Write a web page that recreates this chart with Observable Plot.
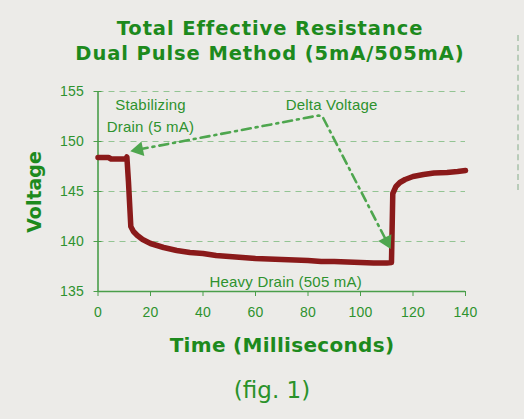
<!DOCTYPE html>
<html><head><meta charset="utf-8">
<script src="https://cdn.jsdelivr.net/npm/d3@7"></script>
<script src="https://cdn.jsdelivr.net/npm/@observablehq/plot@0.6"></script>
<style>
body{margin:0;background:#ecebe8;}
#wrap{position:relative;width:524px;height:419px;overflow:hidden;background:#ecebe8;}
.t{position:absolute;left:0;width:524px;text-align:center;color:#1d8a1d;font-family:"DejaVu Sans",sans-serif;white-space:nowrap;}
#title{top:16px;left:8px;font-weight:bold;font-size:19.5px;line-height:25px;letter-spacing:0.9px;}
#xlab{top:333px;left:20px;font-weight:bold;font-size:20px;letter-spacing:0.3px;}
#cap{top:377px;left:10px;font-size:23px;color:#2a922a;}
#ylab{position:absolute;left:34px;top:192px;transform:translate(-50%,-50%) rotate(-90deg);color:#1d8a1d;font-family:"DejaVu Sans",sans-serif;font-weight:bold;font-size:19px;white-space:nowrap;}
#edge{position:absolute;left:517px;top:35px;height:155px;border-left:2px dashed #b9ccb9;}
#chart{position:absolute;left:0;top:0;}
#chart svg text{letter-spacing:0.2px;}
</style>
</head><body>
<div id="wrap">
  <div id="chart"></div>
  <div id="title" class="t">Total Effective Resistance<br>Dual Pulse Method (5mA/505mA)</div>
  <div id="ylab">Voltage</div>
  <div id="xlab" class="t">Time (Milliseconds)</div>
  <div id="cap" class="t">(fig. 1)</div>
  <div id="edge"></div>
</div>
<script>
// Measured trace
const timeMs = [0, 4, 5, 10.5, 11, 11.6, 12.5, 13.5, 15, 17, 20, 25, 30, 35, 40, 45, 50, 55, 60, 65, 70, 75, 80, 85, 90, 95, 100, 105, 110, 111.8, 112.3, 113.5, 115, 117, 120, 124, 128, 133, 137, 140];
const voltage = [148.4, 148.4, 148.25, 148.25, 148.45, 146, 141.5, 141.0, 140.6, 140.2, 139.8, 139.4, 139.1, 138.9, 138.8, 138.6, 138.5, 138.4, 138.3, 138.25, 138.2, 138.15, 138.1, 138.0, 138.0, 137.95, 137.9, 137.85, 137.85, 137.9, 144.8, 145.5, 145.9, 146.2, 146.5, 146.7, 146.85, 146.9, 147.0, 147.1];

// Axis ticks
const xTicks = [0, 20, 40, 60, 80, 100, 120, 140];
const yTicks = [135, 140, 145, 150, 155];
const gridLevels = [140, 145, 150, 155];

// Annotation labels
const labelText = ["Stabilizing", "Drain (5 mA)", "Delta Voltage", "Heavy Drain (505 mA)"];
const labelX = [20, 20, 89, 71.5];
const labelY = [153.6, 151.4, 153.6, 135.95];

// Dash-dot arrow path (data coords) and heads
const arrowX = [15.5, 84, 85.5, 110];
const arrowY = [149.2, 152.6, 152.5, 140.0];
const headX = [15.5, 110];
const headY = [149.2, 140.0];
const headAngle = [259, 153];

const trace = timeMs.map((t, i) => ({t, v: voltage[i]}));
const labels = labelText.map((s, i) => ({s, x: labelX[i], y: labelY[i]}));
const arrowPts = arrowX.map((x, i) => ({x, y: arrowY[i]}));
const heads = headX.map((x, i) => ({x, y: headY[i], a: headAngle[i]}));

const green = "#2e922e";
const chart = Plot.plot({
  width: 524,
  height: 419,
  marginLeft: 97.5,
  marginRight: 59,
  marginTop: 91,
  marginBottom: 128,
  style: {background: "transparent", fontFamily: "'Liberation Sans', Arial, sans-serif"},
  x: {domain: [0, 140]},
  y: {domain: [135, 155]},
  marks: [
    Plot.ruleY(gridLevels, {x1: 0, x2: 140, stroke: "#93c493", strokeWidth: 1.2, strokeDasharray: "6,5"}),
    Plot.ruleX([0], {y1: 135, y2: 155, stroke: "#4a9e4a", strokeWidth: 1.6}),
    Plot.ruleY([135], {x1: 0, x2: 140, stroke: "#4a9e4a", strokeWidth: 1.6}),
    Plot.axisY({ticks: yTicks, tickSize: 8, dx: 4, tickPadding: 10, fontSize: 14, color: green, stroke: "#4a9e4a", label: null, tickFormat: d => String(d)}),
    Plot.axisX({ticks: xTicks, tickSize: 5, tickPadding: 11, fontSize: 14, color: green, stroke: "#4a9e4a", label: null, tickFormat: d => String(d)}),
    Plot.line(trace, {x: "t", y: "v", stroke: "#8a1a1a", strokeWidth: 5.5, strokeLinejoin: "round", strokeLinecap: "round"}),
    Plot.line(arrowPts, {x: "x", y: "y", stroke: "#4ea64e", strokeWidth: 2.6, strokeDasharray: "9,5,2,5"}),
    Plot.dot(heads, {x: "x", y: "y", symbol: "triangle", r: 5.5, fill: "#4ea64e", rotate: "a"}),
    Plot.text(labels, {x: "x", y: "y", text: "s", fill: green, fontSize: 15})
  ]
});
document.getElementById("chart").append(chart);
</script>
</body></html>
